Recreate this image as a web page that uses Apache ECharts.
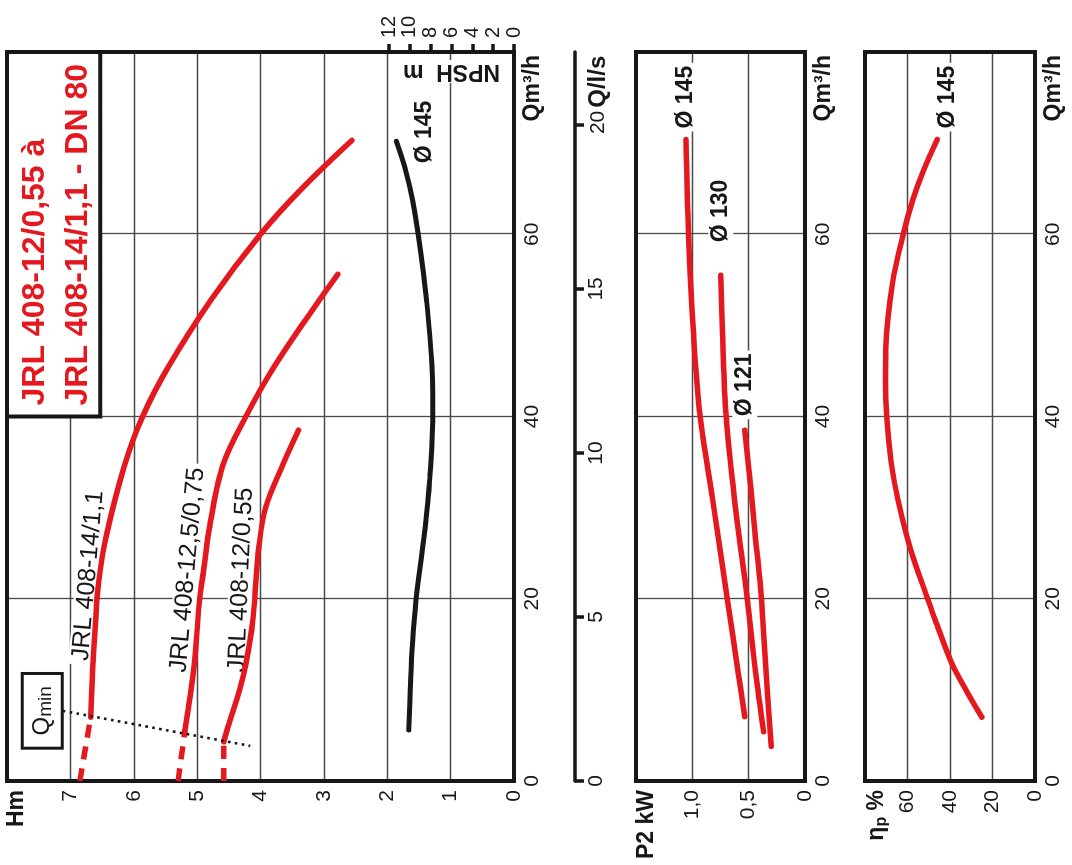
<!DOCTYPE html>
<html>
<head>
<meta charset="utf-8">
<script src="https://cdn.jsdelivr.net/npm/echarts@6/dist/echarts.min.js"></script>
<style>
  html, body { margin: 0; padding: 0; background: #fff; overflow: hidden; }
  /* the sheet is printed sideways: draw it upright, then turn it a quarter left */
  #chart {
    position: absolute; left: 0; top: 0;
    width: 865px; height: 1072px;
    transform-origin: 0 0;
    transform: translate(0, 865px) rotate(-90deg);
  }
</style>
</head>
<body>
<div id="chart"></div>
<script>
// ---- Q-H curves (Q in m3/h, H in m) ----
const qH14Dash = [0, 7];
const hH14Dash = [6.85, 6.68];
const qH14 = [7, 12, 17.7, 22, 27, 34.5, 40, 45.5, 52.8, 60, 65, 70.3];
const hH14 = [6.68, 6.65, 6.6, 6.55, 6.43, 6.15, 5.86, 5.45, 4.78, 4.0, 3.35, 2.56];

const qH125Dash = [0, 5.6];
const hH125Dash = [5.3, 5.19];
const qH125 = [5.6, 12.5, 20, 23, 27.2, 34.5, 40, 45.5, 52.8, 55.6];
const hH125 = [5.19, 5.05, 4.96, 4.9, 4.82, 4.6, 4.23, 3.78, 3.07, 2.78];

const qH12Dash = [0, 4.3];
const hH12Dash = [4.58, 4.58];
const qH12 = [4.3, 6, 10, 12.9, 17.7, 22, 25.4, 30, 34.5, 38.5];
const hH12 = [4.58, 4.51, 4.33, 4.23, 4.12, 4.07, 4.03, 3.92, 3.66, 3.4];

// Qmin dotted line
const qMinQ = [7.7, 3.85];
const qMinH = [7.12, 4.16];

// ---- NPSH (m), impeller 145 ----
const qNpsh = [5.6, 10, 15, 19.9, 27.2, 33, 40, 46, 52.8, 58, 63.8, 67, 70.2];
const npsh = [10.1, 9.95, 9.75, 9.4, 8.6, 8.1, 7.8, 7.9, 8.4, 8.95, 9.75, 10.4, 11.3];

// ---- P2 (kW) ----
const qP145 = [7.06, 12, 20, 30.9, 40, 49.2, 60, 70.4];
const p145 = [0.534, 0.594, 0.69, 0.82, 0.93, 0.99, 1.034, 1.057];
const qP130 = [5.4, 12, 20, 30.9, 40, 49.2, 55.5];
const p130 = [0.367, 0.44, 0.513, 0.626, 0.70, 0.732, 0.748];
const qP121 = [3.8, 10, 17.7, 22, 27.2, 32, 38.5];
const p121 = [0.30, 0.335, 0.375, 0.40, 0.443, 0.48, 0.534];

// ---- efficiency (%) ----
const qEff = [7, 10, 13.1, 17.7, 20, 25.4, 30.9, 35, 40, 44, 47.4, 54.7, 60, 63.8, 67, 70.4];
const eff = [25, 32.5, 39.5, 47, 50.5, 58.5, 64.5, 67.7, 69.8, 70.4, 70.2, 67, 62, 57.5, 52.5, 46];

// ticks
const lsTicks = [0, 5, 10, 15, 20];

const FONT = '"Liberation Sans", Arial, Helvetica, sans-serif';
const RED = '#e3191f';
const INK = '#171717';
const GRID_LINE = '#4a4a4a';

const pairs = (xs, ys) => xs.map((x, i) => [x, ys[i]]);

const splitLine = {
    show: true,
    showMinLine: false,
    showMaxLine: false,
    lineStyle: { color: GRID_LINE, width: 1.3 },
};
const tickLabel = { color: INK, fontFamily: FONT, fontSize: 21 };
const boldName = { color: INK, fontFamily: FONT, fontSize: 23, fontWeight: 'bold' };

const qAxis = grid => ({
    gridIndex: grid,
    type: 'value',
    min: 0,
    max: 80,
    interval: 20,
    axisLine: { show: false, onZero: false },
    axisTick: { show: false },
    axisLabel: { ...tickLabel, margin: 8, formatter: v => (v === 80 ? '' : String(v)) },
    splitLine,
    name: 'Qm³/h',
    nameLocation: 'end',
    nameGap: -3,
    nameMoveOverlap: false,
    nameTextStyle: { ...boldName, align: 'right', verticalAlign: 'top', padding: [7, 0, 0, 0] },
});

const redLine = { width: 5.5, color: RED, cap: 'round' };
const redDash = { width: 5.5, color: RED, type: [13, 9] };

const curveName = (text, point, rotate, offset) => ({
    z: 1,
    symbol: 'circle',
    symbolSize: 0,
    silent: true,
    data: [{
        coord: point,
        label: {
            show: true,
            position: 'inside',
            formatter: text,
            rotate,
            offset,
            color: INK,
            fontFamily: FONT,
            fontSize: 25,
            backgroundColor: '#fff',
            padding: [0, 4],
        },
    }],
});

const diaLabel = (text, extra) => ({
    show: true,
    formatter: text,
    color: INK,
    fontFamily: FONT,
    fontSize: 23,
    fontWeight: 'bold',
    backgroundColor: '#fff',
    padding: [1, 3],
    ...extra,
});

const line = (xi, yi, data, lineStyle, more) => ({
    type: 'line',
    xAxisIndex: xi,
    yAxisIndex: yi,
    data,
    smooth: 0.35,
    symbol: 'none',
    silent: true,
    clip: false,
    lineStyle,
    ...more,
});

const panel = (top, bottom, framed) => ({
    left: 84,
    right: 52,
    top,
    bottom,
    outerBoundsMode: 'none',
    containLabel: false,
    show: framed,
    z: 1,
    borderColor: INK,
    borderWidth: 4,
    backgroundColor: 'transparent',
});

const option = {
    animation: false,
    backgroundColor: '#fff',
    textStyle: { fontFamily: FONT },
    grid: [
        panel(7, 558, true),
        panel(389, 558, false),
        panel(636, 267, true),
        panel(865, 37, true),
    ],
    xAxis: [
        qAxis(0),
        {
            gridIndex: 0,
            type: 'value',
            min: 0,
            max: 80 / 3.6,
            position: 'bottom',
            offset: 61,
            axisLine: { show: true, onZero: false, lineStyle: { color: INK, width: 3.5 } },
            axisTick: { show: true, length: 9, customValues: lsTicks, lineStyle: { color: INK, width: 3.5 } },
            axisLabel: {
                ...tickLabel,
                margin: 11,
                customValues: lsTicks,
                formatter: v => (v === 20 ? '{p|}{n|20}{u|Q/l/s}' : lsTicks.includes(v) ? String(v) : ''),
                rich: {
                    p: { width: 60 },
                    n: { ...tickLabel },
                    u: { ...boldName, fontSize: 24, padding: [0, 0, 0, 3] },
                },
            },
            splitLine: { show: false },
        },
        { gridIndex: 1, type: 'value', min: 0, max: 80, show: false },
        qAxis(2),
        qAxis(3),
    ],
    yAxis: [
        {
            gridIndex: 0,
            type: 'value',
            min: 0,
            max: 8,
            interval: 1,
            axisLine: { show: false, onZero: false },
            axisTick: { show: false },
            axisLabel: {
                ...tickLabel,
                margin: 9,
                formatter: v => (v === 8 ? '{b|Hm}' : String(v)),
                rich: { b: { ...boldName, padding: [20, 0, 0, 0] } },
            },
            splitLine,
        },
        {
            gridIndex: 1,
            type: 'value',
            min: 0,
            max: 12,
            interval: 2,
            position: 'right',
            axisLine: { show: false, onZero: false },
            axisTick: { show: true, inside: false, length: 8, lineStyle: { color: INK, width: 3.5 } },
            axisLabel: { ...tickLabel, fontSize: 20, margin: 14 },
            splitLine: { show: false },
            name: 'NPSH  m',
            nameLocation: 'middle',
            nameRotate: 90,
            nameGap: -31,
            nameMoveOverlap: false,
            nameTextStyle: { ...boldName, backgroundColor: '#fff', padding: [0, 4] },
        },
        {
            gridIndex: 2,
            type: 'value',
            min: 0,
            max: 1.5,
            interval: 0.5,
            axisLine: { show: false, onZero: false },
            axisTick: { show: false },
            axisLabel: {
                ...tickLabel,
                margin: 9,
                formatter: v => (v === 1.5 ? '{b|P2 kW}' : v === 0 ? '0' : v.toFixed(1).replace('.', ',')),
                rich: { b: { ...boldName, padding: [22, 0, 0, 0] } },
            },
            splitLine,
        },
        {
            gridIndex: 3,
            type: 'value',
            min: 0,
            max: 80,
            interval: 20,
            axisLine: { show: false, onZero: false },
            axisTick: { show: false },
            axisLabel: {
                ...tickLabel,
                margin: 9,
                formatter: v => (v === 80 ? '{b|η}{s|p}{b| %}' : String(v)),
                rich: {
                    b: { ...boldName, padding: [24, 0, 0, 0] },
                    s: { ...boldName, fontSize: 16, padding: [34, 0, 0, 0] },
                },
            },
            splitLine,
        },
    ],
    series: [
        // Q-H
        line(0, 0, pairs(qH14Dash, hH14Dash), redDash),
        line(0, 0, pairs(qH14, hH14), redLine, {
            markPoint: curveName('JRL 408-14/1,1', [qH14[3], hH14[3]], -5, [4, -11]),
        }),
        line(0, 0, pairs(qH125Dash, hH125Dash), redDash),
        line(0, 0, pairs(qH125, hH125), redLine, {
            markPoint: curveName('JRL 408-12,5/0,75', [qH125[3], hH125[3]], -5, [0, -16]),
        }),
        line(0, 0, pairs(qH12Dash, hH12Dash), redDash),
        line(0, 0, pairs(qH12, hH12), redLine, {
            markPoint: curveName('JRL 408-12/0,55', [qH12[5], hH12[5]], -2.5, [0, -15]),
        }),
        // Qmin line, Qmin box and the title box
        line(0, 0, pairs(qMinQ, qMinH), { width: 2.6, color: INK, type: [2.6, 4.4] }, {
            smooth: false,
            z: 3,
            markArea: {
                silent: true,
                z: 1,
                data: [
                    [
                        {
                            coord: [40, 8],
                            itemStyle: { color: '#fff', borderColor: INK, borderWidth: 4 },
                            label: {
                                show: true,
                                position: 'insideLeft',
                                distance: 13,
                                offset: [0, 3],
                                formatter: '{t|JRL 408-12/0,55 à}\n{t|JRL 408-14/1,1 - DN 80}',
                                rich: { t: { color: RED, fontFamily: FONT, fontSize: 32, fontWeight: 'bold', lineHeight: 43 } },
                            },
                        },
                        { coord: [80, 6.53] },
                    ],
                    [
                        {
                            coord: [3.6, 7.76],
                            itemStyle: { color: '#fff', borderColor: INK, borderWidth: 3 },
                            label: {
                                show: true,
                                position: 'inside',
                                formatter: '{q|Q}{m|min}',
                                rich: {
                                    q: { color: INK, fontFamily: FONT, fontSize: 24 },
                                    m: { color: INK, fontFamily: FONT, fontSize: 19, padding: [8, 0, 0, 0] },
                                },
                            },
                        },
                        { coord: [11.8, 7.13] },
                    ],
                ],
            },
        }),
        // NPSH
        line(2, 1, pairs(qNpsh, npsh), { width: 5, color: INK, cap: 'round' }, {
            endLabel: diaLabel('Ø 145', { distance: 0, offset: [-25, 28] }),
        }),
        // P2
        line(3, 2, pairs(qP145, p145), redLine, { endLabel: diaLabel('Ø 145', { distance: 8 }) }),
        line(3, 2, pairs(qP130, p130), redLine, { endLabel: diaLabel('Ø 130', { distance: 30 }) }),
        line(3, 2, pairs(qP121, p121), redLine, { endLabel: diaLabel('Ø 121', { distance: 11 }) }),
        // efficiency
        line(4, 3, pairs(qEff, eff), redLine, { endLabel: diaLabel('Ø 145', { distance: 8, offset: [0, 10] }) }),
    ],
};

const chart = echarts.init(document.getElementById('chart'), null, { renderer: 'canvas' });
chart.setOption(option);
</script>
</body>
</html>
